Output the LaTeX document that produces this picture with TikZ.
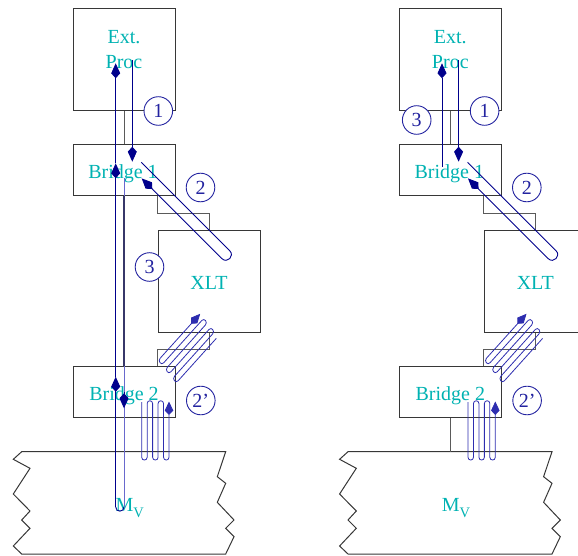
\documentclass[tikz,border=0pt]{standalone}
\usepackage{fontspec}
\setmainfont{Liberation Serif}
\usetikzlibrary{arrows.meta,calc}
\definecolor{labcyan}{RGB}{0,178,178}
\definecolor{pathnavy}{RGB}{0,0,140}
\definecolor{lightnavy}{RGB}{105,105,205}
\definecolor{coilblue}{RGB}{45,45,175}
\definecolor{circblue}{RGB}{35,35,160}
\definecolor{boxgray}{RGB}{55,55,55}
\definecolor{busgray}{RGB}{90,90,90}
\definecolor{darkbus}{RGB}{55,55,105}
\tikzset{
 unitbox/.style={draw=boxgray, line width=1pt, inner sep=0pt, minimum width=102pt},
 lab/.style={text=labcyan, font=\fontsize{20}{24}\selectfont, inner sep=0pt, anchor=base},
 numcirc/.style={circle, draw=circblue, fill=white, line width=0.9pt, minimum size=28.6pt, inner sep=0pt, text=circblue, font=\fontsize{20}{20}\selectfont},
 bus/.style={draw=busgray, line width=1pt},
 flow/.style={draw=pathnavy, line width=0.9pt},
 flowar/.style={flow, -{Kite[length=15pt,width=9pt,inset=5pt]}},
 coil/.style={draw=coilblue, line width=0.8pt},
 coilar/.style={coil, -{Kite[length=13.5pt,width=8.5pt,inset=4.5pt]}},
 memshape/.style={draw=boxgray, line width=1pt},
}
\newcommand\unitparts[1]{%
 % boxes
 \node[unitbox, minimum height=102.4pt] (#1-ext) at (124,59.5) {};
 \node[unitbox, minimum height=51pt] (#1-b1) at (124,170.5) {};
 \node[unitbox, minimum height=102pt] (#1-xlt) at (209,281) {};
 \node[unitbox, minimum height=50.6pt] (#1-b2) at (124,392) {};
 % memory
 \draw[memshape] (21.7,451.7) -- (225.7,451.7) -- (217.3,476.7) -- (225.7,483.3) -- (217.3,502.3) -- (234,520) -- (225.7,528.3) -- (234,536.7) -- (225.7,554) -- (21.7,554) -- (13.3,546) -- (30,528.3) -- (21.7,520) -- (30,511) -- (13.3,494) -- (30,468.3) -- (13.3,459.3) -- cycle;
 \coordinate (#1-mtop) at (124,451.7);
 % labels
 \node[lab] (#1-ext-t1) at (124,43.3) {Ext.};
 \node[lab] (#1-ext-t2) at (124,68.5) {Proc};
 \node[lab] (#1-b1-t) at (123,178.5) {Bridge 1};
 \node[lab] (#1-xlt-t) at (209,289.5) {XLT};
 \node[lab] (#1-b2-t) at (124,400.7) {Bridge 2};
 \node[lab, anchor=base west] (#1-mv-t) at (115.4,511.7) {M\raisebox{-5.3pt}{\fontsize{14.5}{14.5}\selectfont V}};
 % bus connectors
 \draw[bus] (#1-ext.south) -- (#1-b1.north);
 \draw[bus] (#1-b1.south -| #1-xlt.west) -- ++(0,17.3) -| (#1-xlt.north);
 \draw[bus] (#1-xlt.south) -- ++(0,17.3) -| (#1-b2.north -| #1-xlt.west);
 \draw[bus] (#1-b2.south) -- (#1-mtop);
 % path 1
 \coordinate (#1-p1s) at (132.3,60);
 \coordinate (#1-p1e) at (132.3,161.7);
 \draw[flowar] (#1-p1s) -- (#1-p1e);
 % path 2
 \coordinate (#1-p2s) at (141.3,162.3);
 \coordinate (#1-p2e) at (141.7,178.4);
 \draw[flowar] (#1-p2s) -- (229.75,250.75) .. controls (234.98,255.98) and (227.13,263.83) .. (221.9,258.6) -- (#1-p2e);
 % diagonal coil (2')
 \coordinate (#1-dcs) at (216.23,338.45);
 \coordinate (#1-dce) at (200.2,313.8);
 \draw[coilar] (#1-dcs) -- (178.1,380.8)
   .. controls (175.56,383.62) and (171.96,379.12) .. (174.5,376.3)
   -- (212.63,333.95)
   .. controls (215.17,331.13) and (211.57,326.63) .. (209.03,329.45)
   -- (170.9,371.8)
   .. controls (168.36,374.62) and (164.76,370.12) .. (167.3,367.3)
   -- (205.43,324.95)
   .. controls (207.97,322.13) and (204.37,317.63) .. (201.83,320.45)
   -- (163.7,362.8)
   .. controls (161.16,365.62) and (157.56,361.12) .. (160.1,358.3)
   -- (#1-dce);
 % vertical coil (2')
 \coordinate (#1-vcs) at (141.7,402);
 \coordinate (#1-vce) at (169.0,401.5);
 \draw[coilar] (#1-vcs) -- (141.7,457.3)
   .. controls (141.7,460.94) and (147.16,460.94) .. (147.16,457.3)
   -- (147.16,403.5)
   .. controls (147.16,399.86) and (152.62,399.86) .. (152.62,403.5)
   -- (152.62,457.3)
   .. controls (152.62,460.94) and (158.08,460.94) .. (158.08,457.3)
   -- (158.08,403.5)
   .. controls (158.08,399.86) and (163.54,399.86) .. (163.54,403.5)
   -- (163.54,457.3)
   .. controls (163.54,460.94) and (169.0,460.94) .. (169.0,457.3)
   -- (#1-vce);
 % circled numbers
 \node[numcirc] (#1-c1) at (158.3,111) {1};
 \node[numcirc] (#1-c2) at (200.5,187.5) {2};
 \node[numcirc] (#1-c2p) at (200.8,400.5) {2’};
}
\begin{document}
\begin{tikzpicture}[x=1pt,y=-1pt]
\useasboundingbox (0,0) rectangle (578,556);
% ---------- left diagram ----------
\begin{scope}
 \unitparts{L}
 \coordinate (L-p3s) at (124,178);
 \coordinate (L-p3b) at (124,507);
 \coordinate (L-p3c) at (115.7,507);
 \coordinate (L-p3d) at (115.7,376.7);
 \coordinate (L-p3e) at (115.7,163.3);
 \coordinate (L-p3f) at (115.7,63.3);
 \coordinate (L-p3a0) at (124,392);
 \coordinate (L-p3a) at (124,408.3);
 \draw[flow, draw=lightnavy] (L-p3s) -- (L-p3b);
 \draw[darkbus, line width=1.1pt] (L-b1.south) -- (L-b2.north);
 \draw[flowar] (L-p3a0) -- (L-p3a);
 \draw[flow] (L-p3b) .. controls (124,512.5) and (115.7,512.5) .. (L-p3c);
 \draw[flowar] (L-p3c) -- (L-p3d);
 \draw[flowar] (L-p3d) -- (L-p3e);
 \draw[flowar] (L-p3e) -- (L-p3f);
 \node[numcirc] (L-c3) at (149.5,267) {3};
\end{scope}
% ---------- right diagram ----------
\begin{scope}[xshift=326.3pt]
 \unitparts{R}
 \coordinate (R-p3s) at (115.7,166.7);
 \coordinate (R-p3f) at (115.7,63.3);
 \draw[flowar] (R-p3s) -- (R-p3f);
 \node[numcirc] (R-c3) at (90.4,120) {3};
\end{scope}
\end{tikzpicture}
\end{document}
